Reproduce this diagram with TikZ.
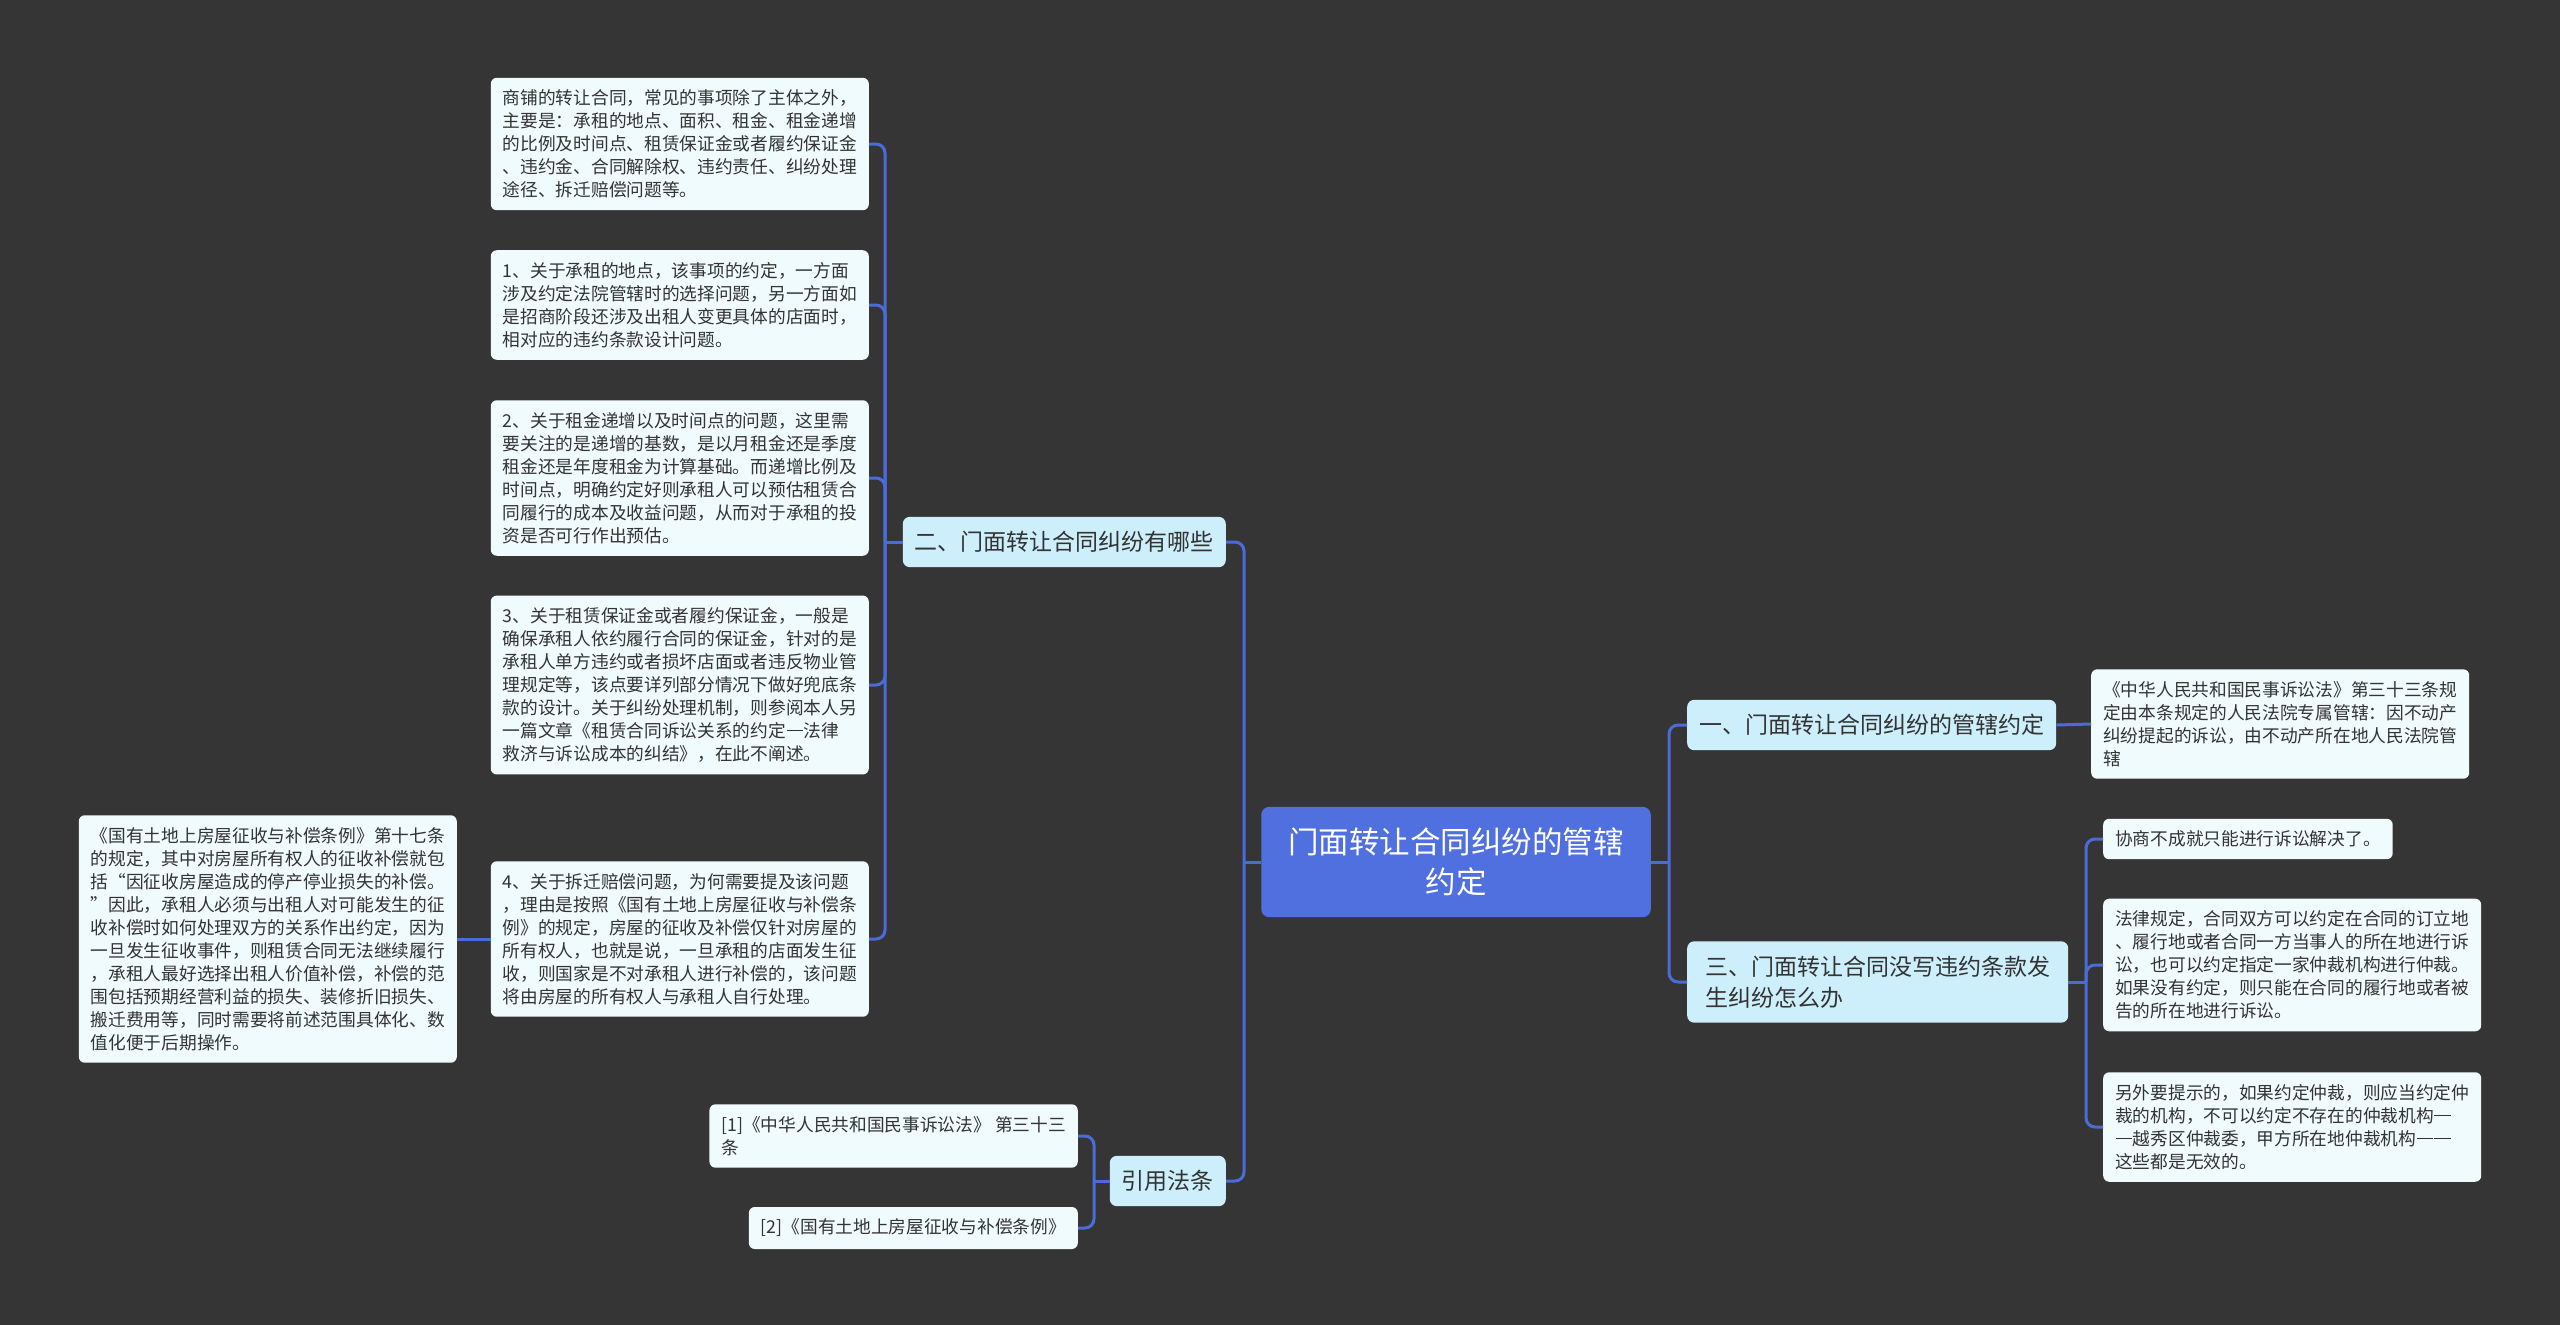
\documentclass[tikz,border=0pt]{standalone}
\usepackage{fontspec}
\usepackage{tikz}
\usetikzlibrary{positioning,calc}
\newfontfamily\cjk{Noto Sans CJK SC}
\definecolor{bgc}{HTML}{363535}
\definecolor{rootc}{HTML}{5070E0}
\definecolor{topc}{HTML}{CDEFFC}
\definecolor{leafc}{HTML}{F0FBFE}
\definecolor{linec}{HTML}{4A6BD8}
\definecolor{txt}{HTML}{333333}
% full width dash and quotes
\newcommand\fdash{\makebox[1em]{\rule[0.36em]{0.94em}{0.06em}}}
\newcommand\fqopen{\makebox[1em][r]{“}}
\newcommand\fqclose{\makebox[1em][l]{”}}

\begin{document}
\begin{tikzpicture}[x=1pt,y=-1pt,
  root/.style={fill=rootc,text=white,rounded corners=8pt,align=center,inner xsep=27pt,inner ysep=21pt,font=\cjk\fontsize{30.5}{40}\selectfont},
  topic/.style={fill=topc,text=txt,rounded corners=7pt,align=left,inner xsep=12pt,inner ysep=14.5pt,font=\cjk\fontsize{23}{31}\selectfont},
  leaf/.style={fill=leafc,text=txt,rounded corners=6pt,align=left,inner xsep=12pt,inner ysep=12pt,font=\cjk\fontsize{17.7}{23}\selectfont},
  conn/.style={draw=linec,line width=3pt,rounded corners=9pt}]
  \fill[bgc] (0,0) rectangle (2560,1325);
  \useasboundingbox (0,0) rectangle (2560,1325);

  % centre and main topics
  \node[root] (root) at (1456,862) {门面转让合同纠纷的管辖\\约定};
  \node[topic,anchor=east] (t2) at (1226,542) {二、门面转让合同纠纷有哪些};
  \node[topic,anchor=east] (tref) at (1226,1181) {引用法条};
  \node[topic,anchor=west] (t1) at (1687,725) {一、门面转让合同纠纷的管辖约定};
  \node[topic,anchor=west,inner xsep=18pt] (t3) at (1687,982) {三、门面转让合同没写违约条款发\\生纠纷怎么办};

  % left leaves
  \node[leaf,anchor=east] (la) at (869,144) {商铺的转让合同，常见的事项除了主体之外，\\主要是：承租的地点、面积、租金、租金递增\\的比例及时间点、租赁保证金或者履约保证金\\、违约金、合同解除权、违约责任、纠纷处理\\途径、拆迁赔偿问题等。};
  \node[leaf,anchor=east] (lb) at (869,305) {1、关于承租的地点，该事项的约定，一方面\\涉及约定法院管辖时的选择问题，另一方面如\\是招商阶段还涉及出租人变更具体的店面时，\\相对应的违约条款设计问题。};
  \node[leaf,anchor=east] (lc) at (869,478) {2、关于租金递增以及时间点的问题，这里需\\要关注的是递增的基数，是以月租金还是季度\\租金还是年度租金为计算基础。而递增比例及\\时间点，明确约定好则承租人可以预估租赁合\\同履行的成本及收益问题，从而对于承租的投\\资是否可行作出预估。};
  \node[leaf,anchor=east] (ld) at (869,685) {3、关于租赁保证金或者履约保证金，一般是\\确保承租人依约履行合同的保证金，针对的是\\承租人单方违约或者损坏店面或者违反物业管\\理规定等，该点要详列部分情况下做好兜底条\\款的设计。关于纠纷处理机制，则参阅本人另\\一篇文章《租赁合同诉讼关系的约定\fdash 法律\\救济与诉讼成本的纠结》，在此不阐述。};
  \node[leaf,anchor=east] (le) at (869,939) {4、关于拆迁赔偿问题，为何需要提及该问题\\，理由是按照《国有土地上房屋征收与补偿条\\例》的规定，房屋的征收及补偿仅针对房屋的\\所有权人，也就是说，一旦承租的店面发生征\\收，则国家是不对承租人进行补偿的，该问题\\将由房屋的所有权人与承租人自行处理。};
  \node[leaf,anchor=east] (lf) at (457,939) {《国有土地上房屋征收与补偿条例》第十七条\\的规定，其中对房屋所有权人的征收补偿就包\\括\fqopen 因征收房屋造成的停产停业损失的补偿。\\\fqclose 因此，承租人必须与出租人对可能发生的征\\收补偿时如何处理双方的关系作出约定，因为\\一旦发生征收事件，则租赁合同无法继续履行\\，承租人最好选择出租人价值补偿，补偿的范\\围包括预期经营利益的损失、装修折旧损失、\\搬迁费用等，同时需要将前述范围具体化、数\\值化便于后期操作。};
  \node[leaf,anchor=east] (r1) at (1078,1136) {[1]《中华人民共和国民事诉讼法》 第三十三\\条};
  \node[leaf,anchor=east] (r2) at (1078,1228) {[2]《国有土地上房屋征收与补偿条例》};

  % right leaves
  \node[leaf,anchor=west] (g1) at (2091,724) {《中华人民共和国民事诉讼法》第三十三条规\\定由本条规定的人民法院专属管辖：因不动产\\纠纷提起的诉讼，由不动产所在地人民法院管\\辖};
  \node[leaf,anchor=west] (c1) at (2103,839) {协商不成就只能进行诉讼解决了。};
  \node[leaf,anchor=west] (c2) at (2103,965) {法律规定，合同双方可以约定在合同的订立地\\、履行地或者合同一方当事人的所在地进行诉\\讼，也可以约定指定一家仲裁机构进行仲裁。\\如果没有约定，则只能在合同的履行地或者被\\告的所在地进行诉讼。};
  \node[leaf,anchor=west] (c3) at (2103,1127) {另外要提示的，如果约定仲裁，则应当约定仲\\裁的机构，不可以约定不存在的仲裁机构\fdash\\\fdash 越秀区仲裁委，甲方所在地仲裁机构\fdash\fdash\\这些都是无效的。};

  % connectors
  \coordinate (jl) at (1244,862);
  \coordinate (jr) at (1669,862);
  \coordinate (j2) at (885,542);
  \coordinate (jref) at (1094,1181);
  \coordinate (j3) at (2086,982);
  \draw[conn] (root.west) -- (jl);
  \draw[conn] (jl) |- (t2.east);
  \draw[conn] (jl) |- (tref.east);
  \draw[conn] (root.east) -- (jr);
  \draw[conn] (jr) |- (t1.west);
  \draw[conn] (jr) |- (t3.west);
  \draw[conn] (t2.west) -- (j2);
  \foreach \n in {la,lb,lc,ld,le} \draw[conn] (j2) |- (\n.east);
  \draw[conn] (le.west) -- (lf.east);
  \draw[conn] (tref.west) -- (jref);
  \draw[conn] (jref) |- (r1.east);
  \draw[conn] (jref) |- (r2.east);
  \draw[conn] (t1.east) -- (g1.west);
  \draw[conn] (t3.east) -- (j3);
  \foreach \n in {c1,c2,c3} \draw[conn] (j3) |- (\n.west);
\end{tikzpicture}
\end{document}
